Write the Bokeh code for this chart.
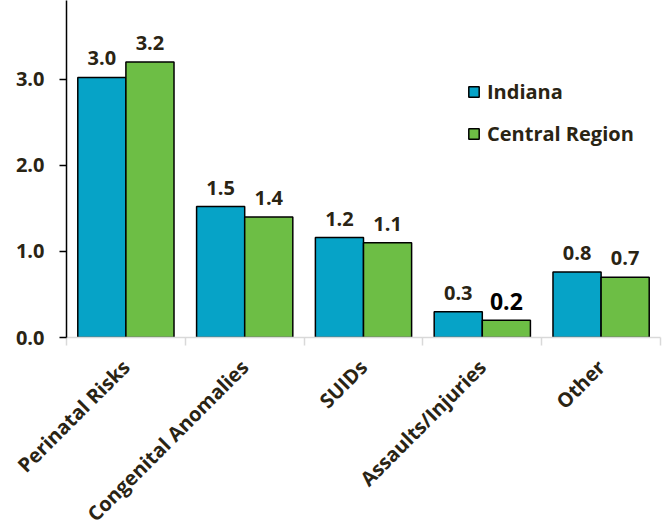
import math
from bokeh.plotting import figure
from bokeh.models import Range1d, FixedTicker, Legend, LegendItem, ColumnDataSource, NumeralTickFormatter
from bokeh.core.properties import value
from bokeh.embed import file_html
from bokeh.resources import INLINE

# ---- data ----
categories = ["Perinatal Risks", "Congenital Anomalies", "SUIDs", "Assaults/Injuries", "Other"]
indiana = [3.02, 1.52, 1.16, 0.30, 0.76]
central = [3.20, 1.40, 1.10, 0.20, 0.70]
series_names = ["Indiana", "Central Region"]
y_ticks = [0.0, 1.0, 2.0, 3.0]

BLUE = "#06A3C7"
GREEN = "#6DBE45"
TEXT = "#2A2414"
FONT = "Open Sans"
FS = "20px"

n = len(categories)
centers = [i + 0.5 for i in range(n)]
bw = 0.405
x_ind = [c - bw / 2 for c in centers]
x_cen = [c + bw / 2 for c in centers]

p = figure(frame_width=594, frame_height=337,
           min_border_left=66, min_border_right=10, min_border_top=0, min_border_bottom=190,
           x_range=Range1d(0, n), y_range=Range1d(0, 3.913),
           output_backend="svg", toolbar_location=None)
p.outline_line_color = None
p.xgrid.visible = False
p.ygrid.visible = False

src_i = ColumnDataSource(dict(x=x_ind, top=indiana,
                              lab=[f"{v:.1f}" for v in indiana],
                              size=[FS] * n, color=[TEXT] * n))
csize = [FS] * n
ccolor = [TEXT] * n
csize[3] = "23px"
ccolor[3] = "#000000"
src_c = ColumnDataSource(dict(x=x_cen, top=central,
                              lab=[f"{v:.1f}" for v in central],
                              size=csize, color=ccolor))

r1 = p.vbar(x="x", top="top", width=bw, source=src_i, fill_color=BLUE,
            line_color="black", line_width=1.5)
r2 = p.vbar(x="x", top="top", width=bw, source=src_c, fill_color=GREEN,
            line_color="black", line_width=1.5)

for s in (src_i, src_c):
    p.text(x="x", y="top", text="lab", source=s, text_align="center",
           text_baseline="alphabetic", y_offset=-19,
           text_font=value(FONT), text_font_style="bold",
           text_font_size="size", text_color="color")

# axes
p.axis.major_label_text_font = FONT
p.axis.major_label_text_font_style = "bold"
p.axis.major_label_text_font_size = FS
p.axis.major_label_text_color = TEXT

p.yaxis.ticker = FixedTicker(ticks=y_ticks, minor_ticks=[])
p.yaxis.formatter = NumeralTickFormatter(format="0.0")
p.yaxis.axis_line_color = "black"
p.yaxis.axis_line_width = 1.5
p.yaxis.major_tick_line_color = "black"
p.yaxis.major_tick_line_width = 1.5
p.yaxis.major_tick_out = 7
p.yaxis.major_tick_in = 0
p.yaxis.major_label_standoff = 15

p.xaxis.ticker = FixedTicker(ticks=centers, minor_ticks=list(range(n + 1)))
p.xaxis.major_label_overrides = {c: cat for c, cat in zip(centers, categories)}
p.xaxis.major_label_orientation = math.pi / 4
p.xaxis.major_tick_line_color = None
p.xaxis.minor_tick_line_color = "#D9D9D9"
p.xaxis.minor_tick_line_width = 1.5
p.xaxis.minor_tick_out = 8
p.xaxis.minor_tick_in = 0
p.xaxis.axis_line_color = "#D9D9D9"
p.xaxis.axis_line_width = 1.5
p.xaxis.major_label_standoff = 18

legend = Legend(items=[LegendItem(label=series_names[0], renderers=[r1]),
                       LegendItem(label=series_names[1], renderers=[r2])],
                location=(401, 190))
legend.label_text_font = FONT
legend.label_text_font_style = "bold"
legend.label_text_font_size = FS
legend.label_text_color = TEXT
legend.glyph_width = 13
legend.glyph_height = 13
legend.label_height = 28
legend.label_standoff = 7
legend.spacing = 14
legend.padding = 0
legend.margin = 0
legend.border_line_color = None
legend.background_fill_alpha = 0
p.add_layout(legend)

open("out.html", "w").write(file_html(p, INLINE))
